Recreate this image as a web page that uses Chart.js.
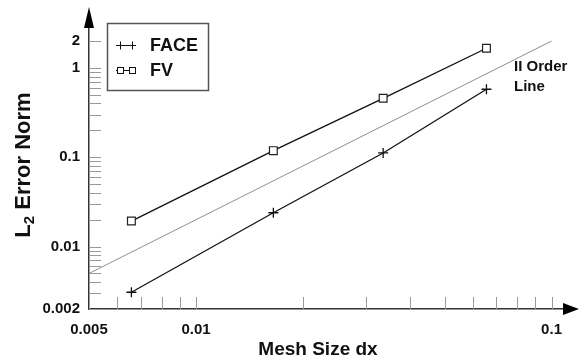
<!DOCTYPE html>
<html>
<head>
<meta charset="utf-8">
<script src="https://cdn.jsdelivr.net/npm/chart.js@4.4.0/dist/chart.umd.min.js"></script>
<style>
  html, body { margin: 0; padding: 0; background: #fff; }
  #wrap { width: 579px; height: 362px; }
</style>
</head>
<body>
<div id="wrap"><canvas id="c" width="579" height="362"></canvas></div>
<script>
// ---- data ----
const meshSize = [0.00658, 0.0165, 0.0336, 0.0656];
const faceError = [0.00308, 0.0239, 0.1117, 0.577];
const fvError = [0.0193, 0.1186, 0.457, 1.66];
const orderLineX = [0.005, 0.1];
const orderLineY = [0.005, 2.0];

const xTickValues = [0.005, 0.006, 0.007, 0.008, 0.009, 0.01, 0.02, 0.03, 0.04, 0.05, 0.06, 0.07, 0.08, 0.09, 0.1];
const xTickLabels = ['0.005', '', '', '', '', '0.01', '', '', '', '', '', '', '', '', '0.1'];
const yTickValues = [0.002, 0.003, 0.004, 0.005, 0.006, 0.007, 0.008, 0.009, 0.01,
  0.02, 0.03, 0.04, 0.05, 0.06, 0.07, 0.08, 0.09, 0.1,
  0.2, 0.3, 0.4, 0.5, 0.6, 0.7, 0.8, 0.9, 1, 2];
const yTickLabels = ['0.002', '', '', '', '', '', '', '', '0.01',
  '', '', '', '', '', '', '', '', '0.1',
  '', '', '', '', '', '', '', '', '1', '2'];

const seriesNames = ['FACE', 'FV'];
const xTitle = 'Mesh Size dx';
const orderLabel = ['II Order', 'Line'];

const FONT = 'Liberation Sans, Arial, Helvetica, sans-serif';

function toPoints(xs, ys) { return xs.map((x, i) => ({ x: x, y: ys[i] })); }

const decorPlugin = {
  id: 'decor',
  beforeDatasetsDraw(chart) {
    const ctx = chart.ctx;
    const xs = chart.scales.x, ys = chart.scales.y;
    const area = chart.chartArea;
    ctx.save();
    ctx.strokeStyle = '#9a9a9a';
    ctx.lineWidth = 1;
    xs.ticks.forEach(t => {
      const px = Math.round(xs.getPixelForValue(t.value)) + 0.5;
      ctx.beginPath();
      ctx.moveTo(px, area.bottom);
      ctx.lineTo(px, area.bottom - 12);
      ctx.stroke();
    });
    ys.ticks.forEach(t => {
      const py = Math.round(ys.getPixelForValue(t.value)) + 0.5;
      ctx.beginPath();
      ctx.moveTo(area.left, py);
      ctx.lineTo(area.left + 12, py);
      ctx.stroke();
    });
    ctx.restore();
  },
  afterDraw(chart) {
    const ctx = chart.ctx;
    const area = chart.chartArea;
    ctx.save();
    // axis arrows
    ctx.fillStyle = '#000';
    ctx.beginPath();
    ctx.moveTo(area.left, 7);
    ctx.lineTo(area.left - 5, area.top);
    ctx.lineTo(area.left + 5, area.top);
    ctx.closePath();
    ctx.fill();
    ctx.beginPath();
    ctx.moveTo(579, area.bottom);
    ctx.lineTo(area.right, area.bottom - 6);
    ctx.lineTo(area.right, area.bottom + 6);
    ctx.closePath();
    ctx.fill();

    // legend box
    ctx.strokeStyle = '#555';
    ctx.lineWidth = 1.5;
    ctx.strokeRect(107.5, 23.5, 101, 67);
    const rows = [45, 70];
    ctx.strokeStyle = '#111';
    ctx.lineWidth = 1;
    rows.forEach((y, i) => {
      ctx.beginPath();
      ctx.moveTo(116, y + 0.5);
      ctx.lineTo(136, y + 0.5);
      ctx.stroke();
      [120, 132].forEach(cx => {
        if (i === 0) {
          ctx.beginPath();
          ctx.moveTo(cx + 0.5, y - 3.5);
          ctx.lineTo(cx + 0.5, y + 4.5);
          ctx.stroke();
        } else {
          ctx.fillStyle = '#fff';
          ctx.fillRect(cx - 3, y - 3, 7, 7);
          ctx.strokeRect(cx - 2.5, y - 2.5, 6, 6);
        }
      });
      ctx.fillStyle = '#111';
      ctx.font = 'bold 18px ' + FONT;
      ctx.textBaseline = 'middle';
      ctx.textAlign = 'left';
      ctx.fillText(seriesNames[i], 150, y + 1);
    });

    // order line label
    ctx.font = 'bold 15px ' + FONT;
    ctx.fillStyle = '#111';
    ctx.textBaseline = 'middle';
    ctx.fillText(orderLabel[0], 514, 67);
    ctx.fillText(orderLabel[1], 514, 87);

    // x title
    ctx.font = 'bold 19px ' + FONT;
    ctx.textAlign = 'center';
    ctx.fillText(xTitle, 318, 350);

    // y title with subscript
    ctx.translate(21, 165);
    ctx.rotate(-Math.PI / 2);
    const big = 'bold 22px ' + FONT, small = 'bold 15px ' + FONT;
    ctx.font = big; const wL = ctx.measureText('L').width;
    ctx.font = small; const w2 = ctx.measureText('2').width;
    ctx.font = big; const wR = ctx.measureText(' Error Norm').width;
    let x0 = -(wL + w2 + wR) / 2;
    ctx.textAlign = 'left';
    ctx.textBaseline = 'alphabetic';
    ctx.font = big; ctx.fillText('L', x0, 9);
    ctx.font = small; ctx.fillText('2', x0 + wL, 13);
    ctx.font = big; ctx.fillText(' Error Norm', x0 + wL + w2, 9);
    ctx.restore();
  }
};

new Chart(document.getElementById('c'), {
  type: 'scatter',
  data: {
    datasets: [
      {
        label: seriesNames[0],
        data: toPoints(meshSize, faceError),
        showLine: true,
        borderColor: '#111',
        borderWidth: 1.3,
        pointStyle: 'cross',
        pointRadius: 5,
        pointBorderColor: '#111',
        pointBorderWidth: 1.3,
        pointBackgroundColor: '#111'
      },
      {
        label: seriesNames[1],
        data: toPoints(meshSize, fvError),
        showLine: true,
        borderColor: '#111',
        borderWidth: 1.3,
        pointStyle: 'rect',
        pointRadius: 5.5,
        pointBorderColor: '#222',
        pointBorderWidth: 1.2,
        pointBackgroundColor: '#fff'
      },
      {
        label: 'II Order Line',
        data: toPoints(orderLineX, orderLineY),
        showLine: true,
        borderColor: '#8f8f8f',
        borderWidth: 1,
        pointRadius: 0
      }
    ]
  },
  options: {
    responsive: false,
    animation: false,
    events: [],
    layout: { padding: { left: 0, top: 28, right: 16, bottom: 0 } },
    plugins: { legend: { display: false }, tooltip: { enabled: false } },
    scales: {
      x: {
        type: 'logarithmic',
        min: 0.005,
        max: 0.1077,
        afterFit(s) { s.height = 53; },
        afterBuildTicks(s) { s.ticks = xTickValues.map(v => ({ value: v })); },
        grid: { display: true, drawOnChartArea: false, drawTicks: false, color: 'rgba(0,0,0,0)' },
        border: { display: true, color: '#333', width: 1.5 },
        ticks: {
          autoSkip: false, maxRotation: 0, minRotation: 0, padding: 12,
          color: '#111',
          font: { family: FONT, size: 15, weight: 'bold' },
          callback(v) { const i = xTickValues.indexOf(v); return i >= 0 ? xTickLabels[i] : ''; }
        },
        title: { display: false }
      },
      y: {
        type: 'logarithmic',
        min: 0.002,
        max: 2.8,
        afterFit(s) { s.width = 89; },
        afterBuildTicks(s) { s.ticks = yTickValues.map(v => ({ value: v })); },
        grid: { display: true, drawOnChartArea: false, drawTicks: false, color: 'rgba(0,0,0,0)' },
        border: { display: true, color: '#333', width: 1.5 },
        ticks: {
          autoSkip: false, padding: 9,
          color: '#111',
          font: { family: FONT, size: 15, weight: 'bold' },
          callback(v) { const i = yTickValues.indexOf(v); return i >= 0 ? yTickLabels[i] : ''; }
        },
        title: { display: false }
      }
    }
  },
  plugins: [decorPlugin]
});
</script>
</body>
</html>
